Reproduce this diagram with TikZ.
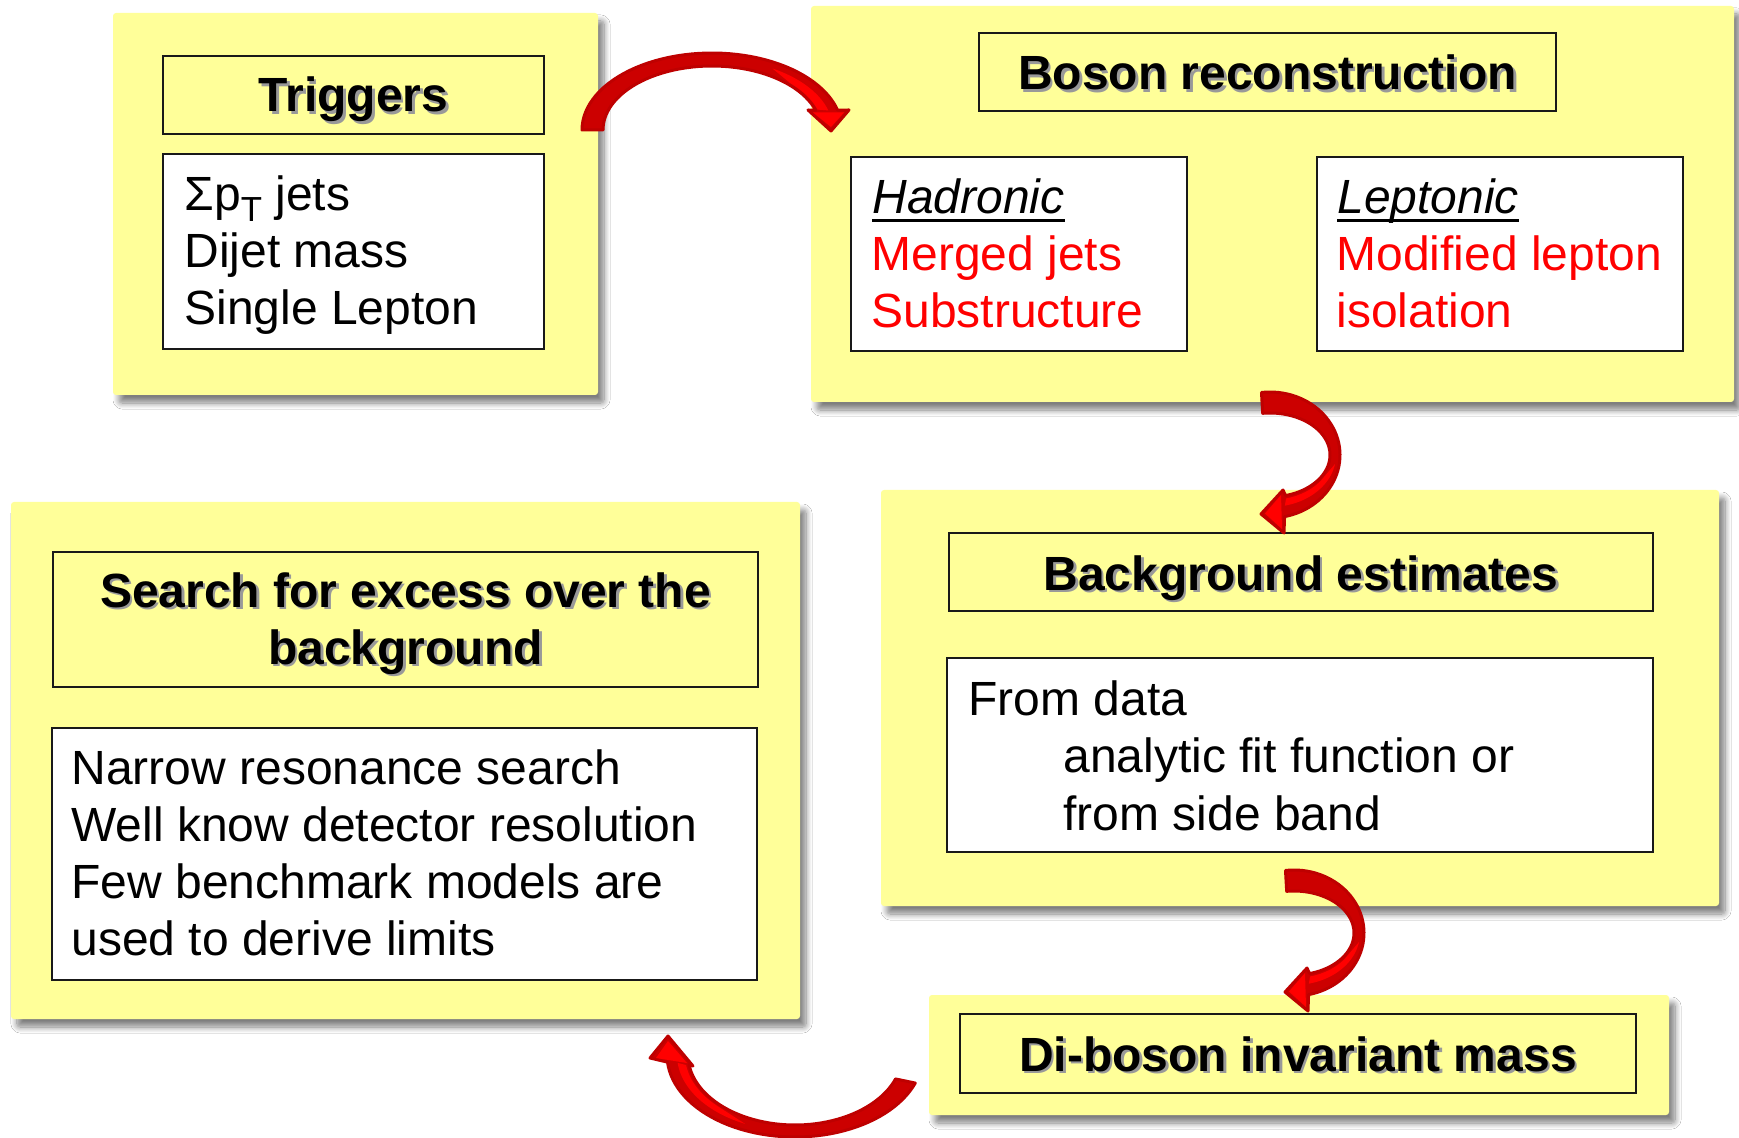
\documentclass[tikz,border=0pt]{standalone}
\usepackage{fontspec}
\setmainfont{Liberation Sans}
\usetikzlibrary{shadows.blur}
\definecolor{panelyellow}{RGB}{255,255,153}
\definecolor{adark}{RGB}{204,0,0}
\definecolor{aedge}{RGB}{190,0,0}
\definecolor{abright}{RGB}{255,0,0}
\definecolor{txtred}{RGB}{255,0,0}
\newcommand\shtitle[1]{\rlap{\hspace{1.3pt}\raisebox{-1.3pt}{\textcolor{black!40}{#1}}}#1}
\newcommand\ulit[1]{\setbox0\hbox{\itshape #1}\rlap{\rule[-4pt]{\wd0}{1.5pt}}\box0}
\begin{document}
\begin{tikzpicture}[x=0.5pt,y=-0.5pt,
  panel/.style={rectangle, fill=panelyellow, rounded corners=1.5pt, inner sep=0pt,
    blur shadow={shadow xshift=3pt, shadow yshift=-4pt, shadow blur radius=3pt, shadow blur steps=10, shadow opacity=50}},
  titlebox/.style={rectangle, draw=black!90, line width=1pt, fill=panelyellow, inner sep=0pt},
  textbox/.style={rectangle, draw=black!90, line width=1pt, fill=white, inner sep=0pt},
  ttl/.style={anchor=base, inner sep=0pt, font=\fontsize{24pt}{28.5pt}\selectfont\bfseries},
  txt/.style={anchor=base west, inner sep=0pt, font=\fontsize{24pt}{28.5pt}\selectfont},
  redtxt/.style={txt, text=txtred},
  arrowbody/.style={fill=adark, draw=aedge, line width=1.5pt, line join=round},
  arrowhl/.style={fill=abright},
]
\fill[white] (0,0) rectangle (1739,1138);
\useasboundingbox (0,0) rectangle (1739,1138);

% panels
\node[panel, minimum width=242.5pt, minimum height=191pt] (trigpanel) at (355.5,204) {};
\node[panel, minimum width=461.5pt, minimum height=198pt] (bosonpanel) at (1272.5,204) {};
\node[panel, minimum width=419pt, minimum height=208pt] (bkgpanel) at (1300,698) {};
\node[panel, minimum width=394.5pt, minimum height=258.5pt] (searchpanel) at (405.5,760.5) {};
\node[panel, minimum width=370pt, minimum height=60pt] (dibosonpanel) at (1299,1055) {};

% title boxes
\node[titlebox, minimum width=190.5pt, minimum height=39pt] (trigtitle) at (353.5,95) {};
\node[titlebox, minimum width=288.5pt, minimum height=39pt] (bosontitle) at (1267.5,72) {};
\node[titlebox, minimum width=352pt, minimum height=39pt] (bkgtitle) at (1301,572) {};
\node[titlebox, minimum width=352.5pt, minimum height=67.5pt] (searchtitle) at (405.5,619.5) {};
\node[titlebox, minimum width=338pt, minimum height=39.5pt] (dibosontitle) at (1298,1053.5) {};

% content boxes
\node[textbox, minimum width=190.5pt, minimum height=97.5pt] (trigbox) at (353.5,251.5) {};
\node[textbox, minimum width=168pt, minimum height=97pt] (hadbox) at (1019,254) {};
\node[textbox, minimum width=183pt, minimum height=97pt] (lepbox) at (1500,254) {};
\node[textbox, minimum width=353pt, minimum height=97pt] (bkgbox) at (1300,755) {};
\node[textbox, minimum width=352.5pt, minimum height=126pt] (searchbox) at (404.5,854) {};

% titles
\node[ttl] (trigt) at (353.5,112) {\shtitle{Triggers}};
\node[ttl] (bosont) at (1267.5,90) {\shtitle{Boson reconstruction}};
\node[ttl] (bkgt) at (1301,590) {\shtitle{Background estimates}};
\node[ttl] (searcht1) at (405.5,607) {\shtitle{Search for excess over the}};
\node[ttl] (searcht2) at (405.5,664) {\shtitle{background}};
\node[ttl] (dibosont) at (1298,1071) {\shtitle{Di-boson invariant mass}};

% contents
\node[txt] (trig1) at (184,211) {Σp\raisebox{-5.5pt}{\fontsize{17.4pt}{17.4pt}\selectfont T} jets};
\node[txt] (trig2) at (184,268) {Dijet mass};
\node[txt] (trig3) at (184,325) {Single Lepton};
\node[txt] (had1) at (872,214) {\ulit{Hadronic}};
\node[redtxt] (had2) at (871,271) {Merged jets};
\node[redtxt] (had3) at (871,328) {Substructure};
\node[txt] (lep1) at (1337,214) {\ulit{Leptonic}};
\node[redtxt] (lep2) at (1336,271) {Modified lepton};
\node[redtxt] (lep3) at (1336,328) {isolation};
\node[txt] (bkg1) at (968,715) {From data};
\node[txt] (bkg2) at (1063,772) {analytic fit function or};
\node[txt] (bkg3) at (1063,830) {from side band};
\node[txt] (srch1) at (71,784) {Narrow resonance search};
\node[txt] (srch2) at (71,841) {Well know detector resolution};
\node[txt] (srch3) at (71,898) {Few benchmark models are};
\node[txt] (srch4) at (71,955) {used to derive limits};

% arrow 1: triggers -> boson
\draw[arrowbody] plot[domain=180:15,samples=50] ({712+130*cos(\x)},{130-77*sin(\x)})
  -- (849,110) -- (831,131) -- (808,110)
  -- plot[domain=18:180,samples=50] ({712+109*cos(\x)},{130-64*sin(\x)}) -- cycle;
\fill[arrowhl] plot[domain=60:16,samples=30] ({712+121*cos(\x)},{130-71*sin(\x)})
  -- plot[domain=18:45,samples=20] ({712+111*cos(\x)},{130-66*sin(\x)}) -- cycle;
\fill[arrowhl] (844,112.5) -- (831,127) -- (813,112.5) -- cycle;

% arrow 2: boson -> background
\draw[arrowbody] plot[domain=97:-78,samples=50] ({1270+70*cos(\x)},{455-63*sin(\x)})
  -- (1284,533) -- (1261,514) -- (1283,490)
  -- plot[domain=-75:97,samples=50] ({1270+60*cos(\x)},{455-42*sin(\x)}) -- cycle;
\fill[arrowhl] plot[domain=-10:-77,samples=30] ({1270+66*cos(\x)},{455-52*sin(\x)})
  -- plot[domain=-75:-35,samples=20] ({1270+62*cos(\x)},{455-45*sin(\x)}) -- cycle;
\fill[arrowhl] (1281,495) -- (1265,513.5) -- (1282,529) -- cycle;

% arrow 3: background -> di-boson
\begin{scope}[shift={(24,478)}]
\draw[arrowbody] plot[domain=97:-78,samples=50] ({1270+70*cos(\x)},{455-63*sin(\x)})
  -- (1284,533) -- (1261,514) -- (1283,490)
  -- plot[domain=-75:97,samples=50] ({1270+60*cos(\x)},{455-42*sin(\x)}) -- cycle;
\fill[arrowhl] plot[domain=-10:-77,samples=30] ({1270+66*cos(\x)},{455-52*sin(\x)})
  -- plot[domain=-75:-35,samples=20] ({1270+62*cos(\x)},{455-45*sin(\x)}) -- cycle;
\fill[arrowhl] (1281,495) -- (1265,513.5) -- (1282,529) -- cycle;
\end{scope}

% arrow 4: di-boson -> search
\draw[arrowbody] plot[domain=20:175,samples=50] ({795+128*cos(\x)},{1055+82*sin(\x)})
  -- (650,1058) -- (668,1036) -- (693,1066)
  -- plot[domain=172:20,samples=50] ({795+107*cos(\x)},{1055+70*sin(\x)}) -- cycle;
\fill[arrowhl] plot[domain=115:174,samples=30] ({795+118*cos(\x)},{1055+76*sin(\x)})
  -- plot[domain=172:135,samples=20] ({795+110*cos(\x)},{1055+72*sin(\x)}) -- cycle;
\fill[arrowhl] (656,1058) -- (668,1041) -- (687,1063) -- cycle;
\end{tikzpicture}
\end{document}
